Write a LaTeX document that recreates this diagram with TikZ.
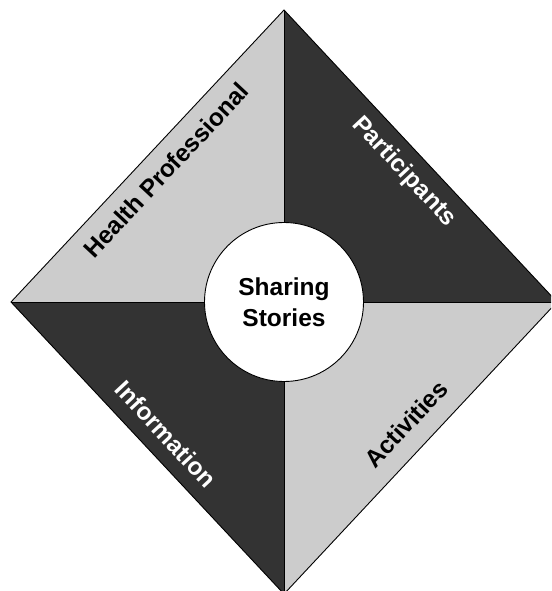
\documentclass[tikz,border=0pt]{standalone}
\usepackage{fontspec}
\setmainfont{Liberation Sans}
\definecolor{lightq}{HTML}{CCCCCC}
\definecolor{darkq}{HTML}{333333}
\begin{document}
\begin{tikzpicture}[x=1pt,y=-1pt,
  quad/.style={draw=black,line width=0.9pt,line join=miter},
  lab/.style={font=\bfseries\fontsize{24.5}{30}\selectfont,inner sep=0pt,anchor=center},
  darklab/.style={lab,text=white},
  lightlab/.style={lab,text=black}]
\useasboundingbox (0,0) rectangle (551,591);
\clip (0,0) rectangle (551,591);
\coordinate (T) at (284,10);
\coordinate (L) at (11,302);
\coordinate (R) at (557,302);
\coordinate (B) at (284,594);
\coordinate (C) at (284,302);
\fill[lightq] (C) -- (L) -- (T) -- cycle;
\fill[darkq] (C) -- (T) -- (R) -- cycle;
\fill[darkq] (C) -- (L) -- (B) -- cycle;
\fill[lightq] (C) -- (R) -- (B) -- cycle;
\draw[quad] (T) -- (R) -- (B) -- (L) -- cycle;
\draw[quad] (T) -- (B) (L) -- (R);
\node[circle,draw=black,fill=white,line width=0.9pt,minimum size=159pt,inner sep=0pt,
  align=center,font=\bfseries\fontsize{24.5}{31}\selectfont] (center) at (C) {Sharing\\Stories};
\node[lightlab,rotate=47] (health) at (166,170) {Health Professional};
\node[darklab,rotate=-47] (part) at (404,172) {Participants};
\node[darklab,rotate=-47] (info) at (166,434) {Information};
\node[lightlab,rotate=47] (act) at (406,424) {Activities};
\end{tikzpicture}
\end{document}
